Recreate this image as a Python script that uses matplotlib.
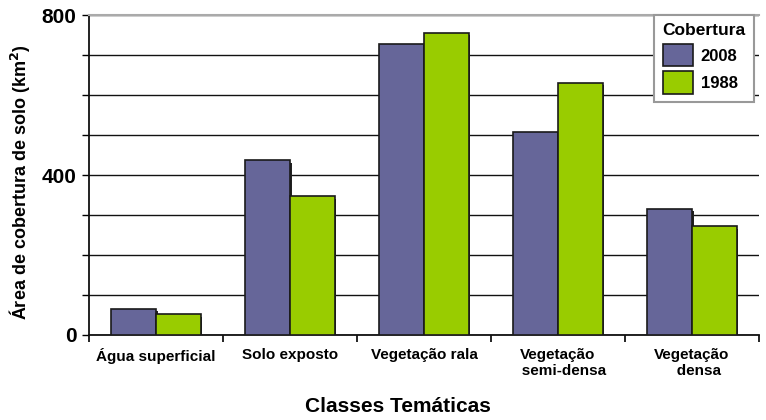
import matplotlib
matplotlib.use("Agg")
import matplotlib.pyplot as plt
import numpy as np

plt.rcParams['font.family'] = ['Liberation Sans', 'DejaVu Sans']

categories = ["Água superficial", "Solo exposto", "Vegetação rala", "Vegetação\n   semi-densa", "Vegetação\n   densa"]
series_names = ["2008", "1988"]
values_2008 = [65, 437, 727, 507, 315]
values_1988 = [52, 347, 755, 630, 272]
colors = ["#666699", "#99cc00"]

fig = plt.figure(figsize=(7.66, 4.2), dpi=100)
ax = fig.add_axes([89/766, 85/420, 670/766, 320/420])

x = np.arange(len(categories))
w = 0.335
for i, (vals, name, c) in enumerate(zip([values_2008, values_1988], series_names, colors)):
    pos = x - w/2 + i*w
    # shadow
    ax.bar(pos + 0.012, vals, w, bottom=-6, color="#222222", zorder=2, linewidth=0)
    ax.bar(pos, vals, w, color=c, edgecolor="#1a1a1a", linewidth=1.2, label=name, zorder=3)

ax.set_xlim(-0.5, len(categories) - 0.5)
ax.set_ylim(0, 800)
ax.set_yticks([0, 400, 800])
ax.set_yticks(np.arange(0, 801, 100), minor=True)
ax.set_yticklabels(["0", "400", "800"], fontsize=15, fontweight="bold")
ax.yaxis.grid(True, which="both", color="#111111", linewidth=1.0, zorder=0)
ax.set_axisbelow(True)
ax.set_xticks(np.arange(-0.5, len(categories), 1.0))
ax.set_xticklabels([])
ax.set_xticks(x, minor=True)
ax.set_xticklabels(categories, minor=True, fontsize=11, fontweight="bold", ha="center", va="top",
                   linespacing=1.25)
ax.tick_params(axis="x", which="minor", length=0, pad=9)
ax.tick_params(axis="x", which="major", length=5, width=1.2, direction="out")
ax.tick_params(axis="y", which="both", length=5, width=1.0, direction="out", pad=4)

for s in ["left", "bottom"]:
    ax.spines[s].set_color("#111111")
    ax.spines[s].set_linewidth(1.3)
ax.spines["top"].set_color("#aaaaaa")
ax.spines["top"].set_linewidth(1.5)
ax.spines["right"].set_visible(False)

fig.text(20/766, 1 - 182/420, "Área de cobertura de solo (km$^\\mathbf{2}$)", fontsize=13,
         fontweight="bold", rotation=90, ha="center", va="center")
fig.text(398/766, 1 - 407/420, "Classes Temáticas", fontsize=15, fontweight="bold",
         ha="center", va="center")

leg = ax.legend(title="Cobertura", loc="upper right", bbox_to_anchor=(0.9925, 1.0),
                borderaxespad=0.0,
                prop={"weight": "bold", "size": 12}, title_fontproperties={"weight": "bold", "size": 12.5},
                frameon=True, fancybox=False, edgecolor="#999999", framealpha=1,
                handlelength=1.8, handleheight=1.7, borderpad=0.5, labelspacing=0.3,
                handletextpad=0.5)
leg.get_frame().set_linewidth(1.5)
leg._legend_box.align = "left"
leg._legend_box.sep = 4
leg.set_zorder(5)

fig.savefig("out.png", dpi=100)
